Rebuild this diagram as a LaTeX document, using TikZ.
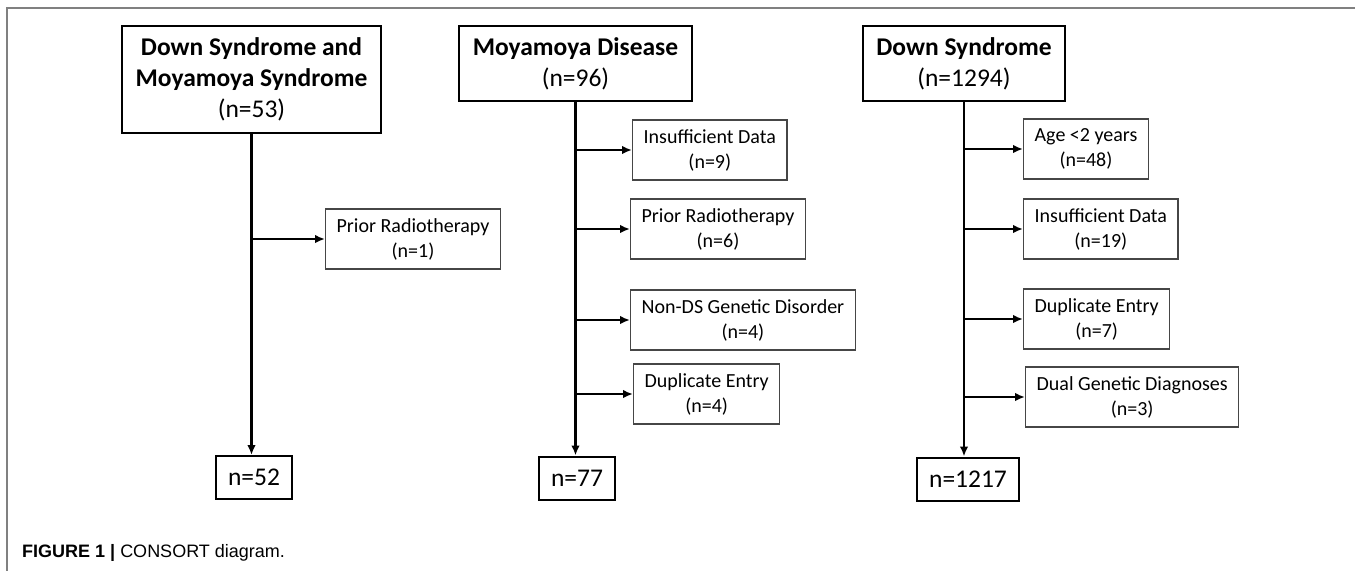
\documentclass[tikz,border=0pt]{standalone}
\usepackage{fontspec}
\setmainfont{Carlito}
\newfontfamily\capfont{Liberation Sans}
\usetikzlibrary{arrows.meta}
\definecolor{framegray}{RGB}{128,128,128}
\definecolor{boxgray}{RGB}{70,70,70}

\begin{document}
\begin{tikzpicture}[x=1pt, y=-1pt,
    headbox/.style={draw, line width=2pt, align=center, inner xsep=13.5pt,
        minimum height=75pt, font=\fontsize{25.5}{31}\selectfont},
    exbox/.style={draw=boxgray, line width=1.3pt, align=center, inner xsep=11pt,
        minimum height=60pt, anchor=west, font=\fontsize{20}{25}\selectfont},
    resbox/.style={draw, line width=2pt, inner xsep=12pt, minimum height=43pt,
        font=\fontsize{25.5}{31}\selectfont},
    arr/.style={line width=2.1pt, -{Latex[length=10pt,width=8.5pt]}}]
    \useasboundingbox (0,0) rectangle (1355,571);

    % Frame
    \draw[framegray, line width=1.5pt] (1355,8) -- (7,8) -- (7,571);

    % Column 1: Down Syndrome and Moyamoya Syndrome
    \node[headbox, minimum height=107pt] (dsmms) at (251.5,79.5)
        {\textbf{Down Syndrome and}\\\textbf{Moyamoya Syndrome}\\(n=53)};
    \node[resbox] (dsmmsres) at (254,477.5) {n=52};
    \draw[arr] (dsmms.south) -- (dsmms.south |- dsmmsres.north);
    \node[exbox] (dsmmsx1) at (325,239) {Prior Radiotherapy\\(n=1)};
    \draw[arr] (dsmms.south |- dsmmsx1.west) -- (dsmmsx1.west);

    % Column 2: Moyamoya Disease
    \node[headbox] (mmd) at (575.5,63.5) {\textbf{Moyamoya Disease}\\(n=96)};
    \node[resbox] (mmdres) at (577,478) {n=77};
    \draw[arr] (mmd.south) -- (mmd.south |- mmdres.north);
    \foreach \nm/\xx/\yy/\lbl/\num in {mmdx1/632/150/Insufficient Data/9,
        mmdx2/630/229/Prior Radiotherapy/6, mmdx3/630/320/Non-DS Genetic Disorder/4,
        mmdx4/633/394/Duplicate Entry/4} {
        \node[exbox] (\nm) at (\xx,\yy) {\lbl\\(n=\num)};
        \draw[arr] (mmd.south |- \nm.west) -- (\nm.west);
    }

    % Column 3: Down Syndrome
    \node[headbox] (ds) at (964,63.5) {\textbf{Down Syndrome}\\(n=1294)};
    \node[resbox] (dsres) at (968,479) {n=1217};
    \draw[arr] (ds.south) -- (ds.south |- dsres.north);
    \foreach \nm/\xx/\yy/\lbl/\num in {dsx1/1023/149/Age <2 years/48,
        dsx2/1023/229/Insufficient Data/19, dsx3/1023/319/Duplicate Entry/7,
        dsx4/1025/397/Dual Genetic Diagnoses/3} {
        \node[exbox] (\nm) at (\xx,\yy) {\lbl\\(n=\num)};
        \draw[arr] (ds.south |- \nm.west) -- (\nm.west);
    }

    % Caption
    \node[anchor=base west, inner sep=0pt, font=\capfont\fontsize{18}{22}\selectfont]
        (caption) at (22,557) {\textbf{FIGURE 1 |} CONSORT diagram.};
\end{tikzpicture}
\end{document}
